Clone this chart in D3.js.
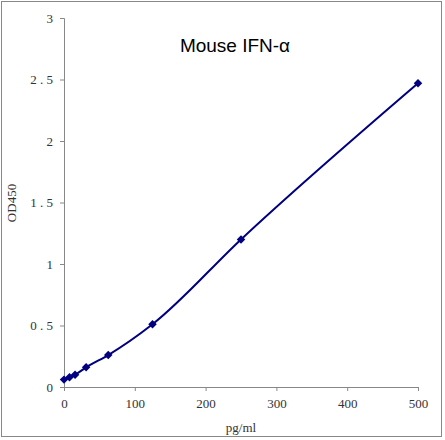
<!DOCTYPE html>
<html><head><meta charset="utf-8">
<script src="https://cdn.jsdelivr.net/npm/d3@7"></script>
<style>body{margin:0;background:#fff}</style></head>
<body><svg id="c" width="445" height="440"></svg>
<script>
const conc = [0, 7.8, 15.6, 31.25, 62.5, 125, 250, 500];
const od = [0.06, 0.08, 0.1, 0.16, 0.26, 0.51, 1.2, 2.47];
const xTicks = [0, 100, 200, 300, 400, 500];
const yTicks = [0, 0.5, 1, 1.5, 2, 2.5, 3];

const svg = d3.select("#c");
const x = d3.scaleLinear().domain([0, 500]).range([64, 418]);
const y = d3.scaleLinear().domain([0, 3]).range([387, 18]);
const serif = "'Liberation Serif', 'DejaVu Serif', serif";

// outer frame
svg.append("rect").attr("x", 1.5).attr("y", 1.5).attr("width", 440).attr("height", 435)
  .attr("fill", "none").attr("stroke", "#888").attr("stroke-width", 1);

const xAxis = svg.append("g").attr("transform", `translate(0,${y(0)})`)
  .call(d3.axisBottom(x).tickValues(xTicks).tickSize(4).tickFormat(d3.format("d")));
const yAxis = svg.append("g").attr("transform", `translate(${x(0)},0)`)
  .call(d3.axisLeft(y).tickValues(yTicks).tickSize(4).tickFormat(d => d === 0 ? "0" : d3.format("")(d).split("").join(" ")));
[xAxis, yAxis].forEach(a => {
  a.selectAll("path,line").attr("stroke", "#888");
  a.selectAll("text").attr("font-family", serif).attr("font-size", 13).attr("fill", "#333");
});
xAxis.selectAll("text").attr("dy", "1.1em");
yAxis.selectAll("text").attr("dx", "-0.3em");

svg.append("text").attr("x", 241).attr("y", 432).attr("text-anchor", "middle")
  .attr("font-family", serif).attr("font-size", 13).attr("fill", "#333").text("pg/ml");
svg.append("text").attr("transform", "translate(16,203) rotate(-90)").attr("text-anchor", "middle")
  .attr("font-family", serif).attr("font-size", 13).attr("fill", "#333").text("OD450");
svg.append("text").attr("x", 235).attr("y", 52).attr("text-anchor", "middle")
  .attr("font-family", "'Liberation Sans', Arial, sans-serif").attr("font-size", 19).text("Mouse IFN-α");

const pts = conc.map((c, i) => [c, od[i]]);
svg.append("path").datum(pts)
  .attr("d", d3.line().x(d => x(d[0])).y(d => y(d[1])).curve(d3.curveMonotoneX))
  .attr("fill", "none").attr("stroke", "#000080").attr("stroke-width", 2);
svg.selectAll(".pt").data(pts).enter().append("path")
  .attr("transform", d => `translate(${x(d[0])},${y(d[1])}) rotate(45)`)
  .attr("d", d3.symbol(d3.symbolSquare, 36)).attr("fill", "#000080");
</script></body></html>
